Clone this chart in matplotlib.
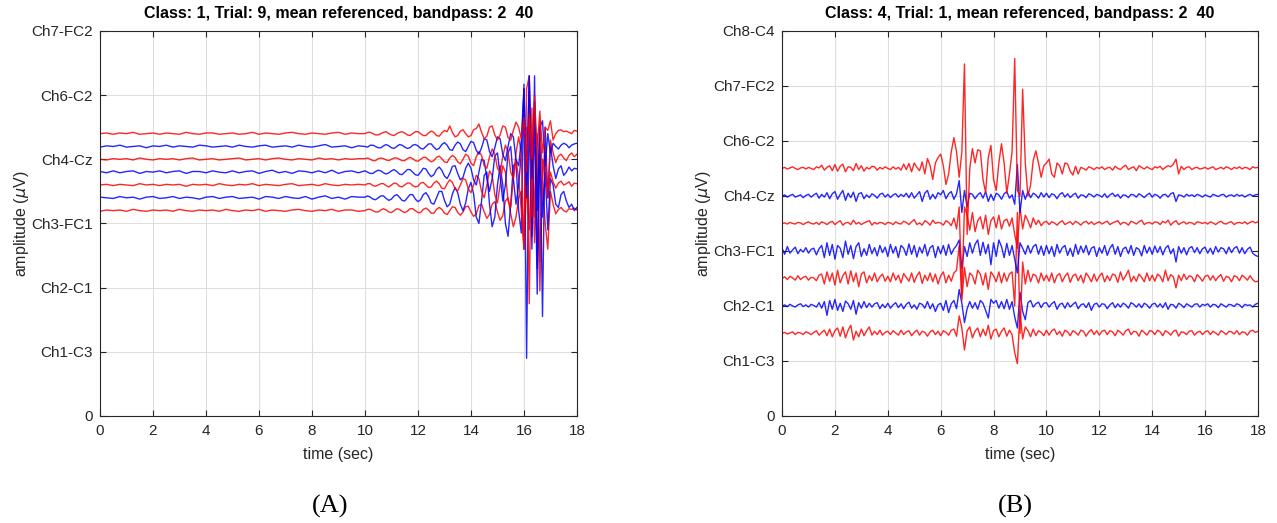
import numpy as np
import matplotlib.pyplot as plt

plt.rcParams['font.family'] = ['Liberation Sans', 'DejaVu Sans']

# ---------------- panel A ----------------
a_title = "Class: 1, Trial: 9, mean referenced, bandpass: 2  40"
a_ticklabels = ["0", "Ch1-C3", "Ch2-C1", "Ch3-FC1", "Ch4-Cz", "Ch6-C2", "Ch7-FC2"]
a_offsets = [3.2, 3.4, 3.6, 3.8, 4.0, 4.2, 4.4]
a_colors = ["red", "blue", "red", "blue", "red", "blue", "red"]
# 0-10 s every 0.25 s, then 10-18 s every 0.1 s
a_time = np.concatenate([np.arange(0, 10, 0.25), np.arange(10, 18.001, 0.1)])

# deviations from each trace's offset, bottom trace first
a_tr1 = [-.01, .01, 0, .01, -.01, .02, 0, -.01, .01, 0, .01, -.01, .02, 0, -.01, .01, 0, .01, -.01, .02,
         0, -.01, .01, 0, .02, -.01, .01, 0, -.01, .01, .02, 0, -.01, .01, 0, .02, -.01, .01, .01, -.01,
         0, .02, .02, 0, -.02, -.02, .01, .03, .01, -.02, -.03, 0, .03, .02, -.01, -.03, -.01, .03, .03, 0,
         -.03, -.03, .02, .04, .01, -.04, -.04, .02, .05, .02, -.04, -.06, 0, .06, .05, -.03, -.07, -.02, .06, .07,
         -.02, -.09, -.05, .08, .1, -.02, -.12, -.06, .1, .14, -.02, -.15, -.08, .15, .2, -.05, -.25, -.1, .2, .3,
         -.6, .4, -.3, .9, -.5, .6, -1.25, .5, -.2, -.6, .3, .1, -.05, .02, .05, 0, -.02, .03, .02, .04, .01]
a_tr2 = [.01, 0, -.01, .02, 0, .01, -.02, .01, .02, -.01, 0, .02, -.01, .01, 0, -.02, .01, .02, -.01, .01,
         .02, -.01, 0, .01, -.02, .02, .01, -.01, .02, 0, -.01, .02, -.02, .01, .03, -.01, .01, -.02, .02, .01,
         .01, .03, .01, -.02, -.03, 0, .03, .03, -.01, -.04, -.02, .03, .05, .01, -.04, -.05, 0, .05, .05, -.02,
         -.06, -.03, .05, .08, .02, -.08, -.1, 0, .1, .1, -.04, -.14, -.1, .06, .16, .08, -.1, -.2, -.08, .14,
         .24, .06, -.3, -.4, -.05, .35, .4, -.1, -.45, -.3, .2, .5, .2, -.4, -.6, -.1, .5, .55, -.2, -.55,
         1.77, -2.5, 1.5, -.8, 1.9, -1.1, .8, -.3, .4, -.5, .3, .2, -.1, -.15, .05, .1, -.05, -.15, -.1, -.2, -.15]
a_tr3 = [0, .01, -.01, .01, 0, -.01, .02, 0, .01, -.01, .01, 0, .01, -.02, .01, 0, .01, -.01, .02, 0,
         -.01, .01, 0, .02, -.01, .01, 0, -.01, .01, .02, -.01, 0, .01, -.01, .02, 0, -.01, .01, 0, .01,
         0, .02, .02, -.01, -.02, 0, .02, .02, -.01, -.03, 0, .03, .02, -.02, -.03, 0, .03, .03, -.01, -.03,
         -.02, .03, .04, 0, -.04, -.03, .03, .06, .02, -.05, -.06, .02, .08, .04, -.06, -.09, 0, .1, .08, -.06,
         -.12, 0, .15, .1, -.1, -.2, 0, .22, .15, -.15, -.28, 0, .3, .2, -.25, -.35, .1, .4, .1, -.4,
         -1.0, .9, -1.85, 1.2, -.5, .8, -1.2, .4, .3, -.2, .2, .05, -.05, .03, .06, 0, .02, .05, -.02, .03, .02]
a_tr4 = [.01, -.01, .02, -.01, .01, .02, -.02, .01, 0, .02, -.01, .01, .02, -.02, .01, .01, -.01, .02, 0, -.01,
         .02, -.01, .01, .02, -.02, .01, .03, -.01, .01, -.02, .02, .01, -.01, .02, -.01, .03, -.02, .01, .02, -.01,
         .02, 0, -.02, -.02, .01, .03, .02, -.01, -.03, -.01, .02, .04, .01, -.03, -.04, 0, .04, .04, 0, -.04,
         -.05, 0, .06, .05, -.02, -.07, -.04, .04, .08, .03, -.06, -.1, -.02, .09, .1, -.02, -.12, -.08, .06, .14,
         .06, -.12, -.2, 0, .2, .18, -.1, -.3, -.1, .25, .3, -.05, -.45, -.2, .3, .4, -.1, -.5, -.2, .3,
         1.3, -.2, 1.5, -1.0, .9, -1.9, .6, -2.25, .7, -.4, .4, .1, -.1, .05, .1, -.05, 0, .08, .02, .06, .05]
a_tr5 = [0, -.01, .01, 0, .01, -.01, .02, 0, -.01, .01, 0, .01, -.01, .01, .02, -.01, 0, .01, -.01, 0,
         .01, .02, -.01, 0, .01, -.01, .01, .02, 0, -.01, .01, 0, -.01, .02, 0, .01, -.01, .01, 0, .01,
         .01, .02, 0, -.02, -.02, .01, .02, .01, -.01, -.02, 0, .02, .02, 0, -.02, -.02, .01, .03, .01, -.02,
         -.03, 0, .03, .03, -.01, -.04, -.02, .03, .05, .01, -.04, -.05, .02, .06, .03, -.04, -.07, 0, .08, .05,
         -.06, -.1, .04, .12, .06, -.1, -.14, .04, .16, .08, -.14, -.2, .04, .22, .12, -.2, -.3, .1, .35, .1,
         -1.4, 1.1, 1.3, -.9, 1.0, -.5, .6, -.3, .2, -.6, .3, .1, -.05, .05, .08, .02, -.02, .06, .1, .04, .08]
a_tr6 = [-.01, .01, 0, .02, -.01, 0, .01, -.02, .01, 0, .02, -.01, .01, 0, -.01, .02, .01, -.01, 0, .01,
         -.01, .02, 0, -.01, .01, .02, -.01, 0, .01, -.01, .02, 0, -.01, .01, .03, -.01, 0, .01, -.02, .01,
         0, -.01, .02, .02, 0, -.02, -.02, .01, .03, .01, -.02, -.03, 0, .03, .02, -.01, -.03, -.02, .02, .03,
         .01, -.03, -.04, 0, .04, .04, -.01, -.05, -.03, .03, .06, .02, -.05, -.06, .02, .07, .04, -.05, -.08, 0,
         .08, .06, -.06, -.12, -.02, .12, .10, -.08, -.16, -.02, .15, .12, -.12, -.22, 0, .2, .15, -.2, -.3, .1,
         .9, -.8, 1.1, -.5, .7, -1.0, .3, .4, -.3, .2, -.1, .05, 0, -.04, .02, .05, .03, -.02, .02, .04, .05]
a_tr7 = [0, .01, -.01, .01, 0, .02, -.01, 0, .01, -.01, .01, 0, -.01, .02, 0, -.01, .01, .01, -.01, 0,
         .01, -.01, 0, .02, -.01, .01, 0, -.01, .01, .02, 0, -.01, .01, 0, -.01, .01, .02, -.01, .01, 0,
         0, .02, .02, 0, -.02, -.02, 0, .02, .03, 0, -.02, -.03, 0, .02, .03, .01, -.02, -.03, 0, .03,
         .03, 0, -.03, -.03, .01, .04, .02, -.03, -.04, .01, .05, .03, .12, .02, -.05, -.03, .04, .06, 0, -.05,
         -.03, .06, .08, .15, .02, -.08, -.04, .10, .12, -.02, -.10, -.02, .12, .10, -.06, -.10, .05, .18, .10, -.08,
         .25, -.6, .3, -.4, .5, -.2, .35, -.3, .1, .05, .2, -.1, 0, .05, .06, .03, .04, .02, 0, .05, .04]
a_traces = [a_tr1, a_tr2, a_tr3, a_tr4, a_tr5, a_tr6, a_tr7]

# ---------------- panel B ----------------
b_title = "Class: 4, Trial: 1, mean referenced, bandpass: 2  40"
b_ticklabels = ["0", "Ch1-C3", "Ch2-C1", "Ch3-FC1", "Ch4-Cz", "Ch6-C2", "Ch7-FC2", "Ch8-C4"]
b_offsets = [1.5, 2.0, 2.5, 3.0, 3.5, 4.0, 4.5]
b_colors = ["red", "blue", "red", "blue", "red", "blue", "red"]
b_time = np.arange(0, 18.001, 0.1)

b_tr1 = [0, .02, -.01, .01, .03, -.02, .02, .01, -.02, .03, .01, -.02, .02, .05, -.03, .02, .06, -.04, .08, -.06,
         .05, .1, -.05, .12, -.08, .06, .15, -.12, .04, -.06, .08, -.04, .05, .12, -.03, .04, -.02, .06, -.03, .02,
         .04, -.02, .05, .01, -.03, .06, -.02, .03, .05, -.04, .02, .06, -.03, .04, .02, -.05, .03, .06, -.02, .04,
         -.04, .05, .02, -.03, .06, .08, -.05, .32, .1, -.3, .05, .12, -.08, .04, .1, -.06, .08, -.04, .15, -.1,
         .05, .08, -.06, .04, .1, -.05, .06, -.02, -.35, -.55, .4, -.1, .12, .05, -.06, .08, -.04, .05, .02, -.04,
         .06, -.03, .05, .08, -.02, .04, -.05, .06, .03, -.04, .05, .02, -.03, .06, .04, -.05, .03, .07, -.02, .05,
         -.03, .04, .06, -.02, .05, .03, -.04, .06, .02, -.03, .05, .08, -.02, .04, .03, -.05, .06, .02, -.03, .05,
         .04, -.02, .06, .03, -.04, .05, .02, -.03, .04, .06, -.05, .03, .02, -.02, .04, .05, -.03, .02, .04, -.02,
         .03, .05, -.02, .04, .01, -.03, .05, .02, -.02, .04, .03, -.01, .05, -.02, .03, .02, -.03, .04, .06, .02,
         .04]
b_tr2 = [0, .02, -.01, .03, 0, -.02, .02, .04, -.01, .02, -.02, .03, .01, -.02, .06, -.04, .08, -.17, .1, -.06,
         .12, -.08, .05, -.1, .09, .04, -.06, .1, -.15, .06, -.04, .08, -.03, .05, -.02, .04, .06, -.05, .03, -.03,
         .05, -.04, .02, .06, -.03, .04, -.05, .03, .07, -.04, .02, -.06, .05, .03, -.04, .08, -.05, .04, -.1, .02,
         .05, -.08, .1, -.12, .04, .1, -.05, .3, .05, -.3, -.05, .08, -.04, .06, -.06, .1, .05, -.08, -.22, .12,
         .05, .1, -.04, .08, -.05, .12, -.06, .08, -.2, -.4, .25, -.1, -.25, .06, .1, -.02, .04, .07, -.03, .05,
         .06, -.02, .04, .08, -.06, .03, .05, -.04, .06, -.02, .03, .07, -.05, .02, .04, -.03, .06, -.08, .03, .05,
         -.02, .04, .03, -.05, .02, .06, -.03, .04, -.02, .05, .02, -.04, .06, .03, -.02, .04, -.03, .05, .02, -.04,
         .03, .05, -.02, .04, -.03, .06, -.06, .03, .02, -.04, .05, .02, -.03, .04, .01, -.02, .03, .04, -.02, .03,
         .01, .04, -.02, .03, .02, -.03, .04, .01, -.02, .03, .02, -.01, .04, .02, -.03, .03, .01, .02, -.02, .03,
         .05]
b_tr3 = [0, .03, -.02, .04, .01, -.03, .05, -.02, .02, .04, -.03, .02, .01, -.04, .06, .08, -.1, .12, -.05, .1,
         -.12, .15, -.08, .05, .12, -.1, .14, -.06, .1, -.15, .08, .12, -.08, .05, -.04, .1, -.06, .03, .08, -.05,
         .04, -.06, .1, -.03, .06, -.08, .09, .02, -.05, .1, -.07, .05, .12, -.09, .06, -.04, .1, -.06, .08, -.1,
         .05, .12, -.08, .06, -.05, .1, .15, .6, -.4, .2, -.15, .1, .05, -.1, .15, .08, -.12, .1, -.2, .12,
         .05, -.06, .12, -.08, .1, -.05, .08, .12, -.5, 1.2, -1.0, .3, -.1, .15, -.06, .08, .05, -.08, .1, -.04,
         .06, -.05, .1, -.08, .05, .09, -.06, .04, .1, -.07, .05, .08, -.04, .06, -.08, .1, .03, -.06, .08, -.05,
         .04, .1, -.06, .05, -.04, .08, .06, -.07, .12, -.03, .05, .15, -.06, .04, -.05, .08, .02, -.06, .1, -.04,
         .06, -.05, .08, .04, -.06, .15, -.04, .07, .03, -.17, .06, -.04, .08, -.02, .05, .03, -.06, .07, .02, -.05,
         .04, .06, -.03, .05, -.04, .03, .07, -.05, .04, .02, -.06, .05, .03, -.04, .06, .02, -.03, .05, -.02, -.06,
         -.05]
b_tr4 = [.05, -.06, .08, -.04, .02, .07, -.05, .03, -.02, .06, -.04, .03, .05, -.07, .04, .1, -.12, .15, -.08, .12,
         -.15, .1, .05, -.12, .18, -.06, .1, -.14, .08, .15, -.1, .04, -.08, .12, -.05, .06, -.09, .1, -.03, .07,
         -.1, .12, -.04, .08, -.12, .1, .05, -.08, .13, -.06, .1, -.11, .07, -.04, .12, -.09, .06, .1, -.12, .08,
         -.05, .1, -.08, .12, -.06, .04, .1, .2, -.32, .08, -.1, .15, -.04, .12, .2, -.08, .16, -.05, .12, -.25,
         .15, -.1, .2, .08, -.12, .14, -.08, .1, -.15, -.4, .15, .05, -.06, .1, -.04, .08, .12, -.06, .09, -.08,
         .1, -.05, .08, -.1, .12, -.04, .06, .1, -.08, .05, -.1, .12, -.06, .09, -.03, .1, -.07, .05, .08, -.1,
         .06, -.04, .1, -.08, .05, .12, -.06, .08, -.1, .04, .07, -.05, .1, -.08, .06, .03, -.09, .1, -.04, .07,
         -.06, .09, -.03, .08, -.07, .05, .1, -.05, .04, -.2, .08, -.04, .06, -.07, .05, .08, -.03, .06, -.05, .04,
         .07, -.04, .05, -.06, .08, -.02, .06, .04, -.05, .07, -.03, .05, .08, -.04, .06, -.05, .03, .07, -.04, -.08,
         -.1]
b_tr5 = [0, .01, -.01, .02, 0, -.01, .02, .01, -.02, .01, .03, 0, -.01, .02, -.02, .03, .01, -.02, .02, .04,
         -.02, .02, .05, -.03, .01, .02, -.02, .06, -.01, .02, -.02, .01, .03, .05, -.03, .02, -.01, .02, .01, -.02,
         .02, .01, -.02, .03, 0, -.01, .04, .02, -.02, .03, .07, -.02, .01, -.03, .05, .02, -.03, .06, 0, .02,
         .01, -.03, .05, .02, -.04, .1, -.1, .3, -1.3, .3, .15, -.12, .2, -.15, .05, .12, -.1, .15, -.2, .05,
         .12, -.08, .15, -.1, .05, .08, -.05, .1, -.2, -.45, .3, -.1, .15, .05, -.08, .1, -.02, .06, -.04, .02,
         .04, -.02, .03, .01, -.03, .02, .05, -.02, .01, .03, -.02, .04, .01, -.03, .02, .04, -.01, .03, -.02, .01,
         .03, -.01, .02, .04, -.02, .01, .03, .05, -.02, .02, .01, -.03, .04, .02, -.01, .03, .06, -.02, .01, .02,
         -.01, .03, .02, -.02, .04, .01, .06, -.03, .02, .05, -.02, .01, .03, -.01, .02, .01, -.02, .03, .02, 0,
         .02, -.01, .03, .01, -.02, .02, .04, 0, -.01, .02, .03, -.02, .01, .02, 0, .03, -.01, .02, .04, .01,
         .03]
b_tr6 = [0, .02, -.02, .01, .03, -.02, 0, .02, -.03, .01, .03, -.02, .02, .05, -.04, .03, -.02, .06, -.05, .04,
         .08, -.06, .03, .1, -.08, .05, -.03, .07, -.1, .04, .06, -.05, .02, -.03, .04, .01, -.04, .03, .05, -.02,
         .03, -.03, .02, .04, -.02, .03, -.01, .05, -.03, .06, -.04, .02, .08, -.1, .05, .1, -.06, .03, -.05, .06,
         .02, .1, -.05, .04, .08, -.06, .04, .28, -.3, .1, -.2, .05, .03, -.05, .02, .06, -.04, .08, -.1, .03,
         -.08, .05, .02, -.06, .04, .08, -.04, .02, -.15, .57, -.3, .1, -.06, .08, -.03, .05, .02, -.04, .06, -.02,
         .05, -.03, .04, .02, -.05, .03, .06, -.02, .04, -.03, .02, .05, -.04, .02, .01, -.03, .04, .02, -.02, .03,
         .01, -.02, .04, -.03, .02, .05, -.01, .03, -.04, .02, .01, -.03, .03, .02, -.02, .04, .01, -.03, .02, .05,
         -.02, .03, .01, -.04, .02, .03, -.02, .04, .06, -.1, .02, .01, -.02, .03, 0, .02, -.01, .03, .01, -.02,
         .02, 0, -.02, .03, .01, -.01, .02, .03, -.02, .01, .02, -.01, .03, 0, .02, -.02, .01, .03, 0, .02,
         .03]
b_tr7 = [0, .02, -.01, .01, .03, 0, -.02, .01, .02, -.01, .02, 0, -.02, .03, .01, .06, -.03, .02, .05, -.04,
         .07, -.05, .04, .08, -.06, .03, .02, -.04, .09, -.02, .05, -.05, .02, -.01, .04, .03, -.03, .02, -.01, .03,
         0, -.02, .03, -.01, .02, -.03, .08, -.02, .09, -.06, .1, .02, -.04, .12, -.1, .18, .05, -.2, .1, .2,
         .26, .05, -.29, -.1, .3, .56, .3, -.16, .3, 1.9, -1.2, 0, .36, .1, .34, .32, -.2, -.44, .2, .42,
         -.2, -.4, .1, .45, .1, -.45, -.1, .3, 2.0, -.4, -.5, 1.44, .1, -.5, -.3, .15, .32, .1, -.16, .05,
         .1, .17, -.1, -.16, .1, .05, -.1, .1, .08, -.05, -.12, .04, -.1, .02, 0, -.03, .03, .01, -.02, .02,
         0, .03, -.02, .01, .02, -.03, .04, 0, -.02, .03, .06, -.02, .01, .03, -.04, .05, .02, -.01, .03, 0,
         -.02, .03, .01, .04, -.02, .02, .05, .03, .08, .17, -.1, .04, -.02, .02, .03, -.02, .01, .02, -.01, 0,
         .02, -.01, .01, .03, -.02, 0, .02, -.01, .03, .01, -.02, .02, 0, .03, -.01, .02, .01, -.02, .03, .01,
         .02]
b_traces = [b_tr1, b_tr2, b_tr3, b_tr4, b_tr5, b_tr6, b_tr7]

xticks = [0, 2, 4, 6, 8, 10, 12, 14, 16, 18]
txt = '#262626'


def draw_panel(ax, t, traces, offsets, colors, ticklabels, title):
    for vals, off, col in zip(traces, offsets, colors):
        ax.plot(t, off + np.array(vals), color=col, lw=1.0, alpha=0.85)
    ax.set_xlim(0, 18)
    ax.set_ylim(0, len(ticklabels) - 1)
    ax.set_xticks(xticks)
    ax.set_yticks(range(len(ticklabels)))
    ax.set_yticklabels(ticklabels)
    ax.grid(True, color='#dedede', lw=0.8)
    ax.set_axisbelow(True)
    ax.tick_params(direction='in', top=True, right=True, length=4, width=0.8,
                   colors=txt, labelsize=11)
    ax.tick_params(axis='x', pad=6)
    ax.tick_params(axis='y', pad=5)
    for sp in ax.spines.values():
        sp.set_color(txt)
        sp.set_linewidth(0.8)
    ax.set_title(title, fontsize=11.5, fontweight='bold', color='black', pad=9.5)
    ax.set_xlabel('time (sec)', fontsize=11.5, color=txt, labelpad=6)
    ax.set_ylabel(r'amplitude ($\mu$V)', fontsize=11.5, color=txt, labelpad=0)


fig = plt.figure(figsize=(12.77, 5.23), dpi=100)
ax_a = fig.add_axes([0.0783, 0.2046, 0.3735, 0.7362])
ax_b = fig.add_axes([0.6124, 0.2046, 0.3727, 0.7362])

draw_panel(ax_a, a_time, a_traces, a_offsets, a_colors, a_ticklabels, a_title)
draw_panel(ax_b, b_time, b_traces, b_offsets, b_colors, b_ticklabels, b_title)

fig.text(0.2584, 0.032, '(A)', ha='center', va='center', family='Liberation Serif', fontsize=19)
fig.text(0.7948, 0.032, '(B)', ha='center', va='center', family='Liberation Serif', fontsize=19)

fig.savefig('out.png', dpi=100)
